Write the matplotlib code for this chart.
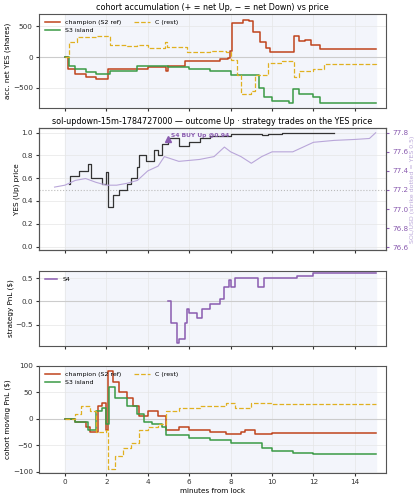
import matplotlib
matplotlib.use("Agg")
import matplotlib.pyplot as plt
import numpy as np

# panel 1: accumulated net YES shares
champ_acc_t = [0,0.1,0.15,0.5,1.0,1.5,2.1,2.5,3.5,4.0,4.5,4.9,5.0,5.8,7.5,7.85,7.95,8.05,8.6,8.9,9.1,9.4,9.7,9.9,10.95,11.05,11.3,11.6,11.9,12.3,15]
champ_acc_v = [0,0,-200,-280,-330,-350,-200,-190,-200,-170,-160,-230,-150,-60,-40,-20,100,550,600,580,400,250,150,80,80,350,260,280,200,130,130]
s3_acc_t = [0,0.1,0.2,0.5,1.0,1.5,2.2,3.5,4.0,5.0,6.0,7.0,8.0,9.2,9.35,9.6,10.0,10.8,11.0,11.3,12.0,12.3,15]
s3_acc_v = [0,0,-150,-200,-250,-280,-220,-150,-140,-170,-200,-230,-300,-300,-500,-650,-720,-750,-520,-600,-650,-750,-750]
c_acc_t = [0,0.1,0.2,0.6,1.5,2.1,2.2,3.0,3.5,4.0,4.85,4.95,5.9,7.0,7.8,8.0,8.3,8.5,9.0,9.2,9.8,10.5,10.95,11.05,11.3,12.0,12.5,15]
c_acc_v = [0,0,250,320,350,350,200,180,200,150,250,160,80,100,80,-50,-300,-600,-550,-300,-100,-70,-70,-330,-230,-200,-120,-130]

# panel 2: YES price and SOL
yes_t = [0.2,0.25,0.7,1.1,1.25,1.8,2.0,2.1,2.3,2.6,3.0,3.2,3.5,3.6,3.9,4.3,4.5,4.7,5.0,5.5,6.0,6.5,7.0,8.0,9.5,9.8,10.5,13.0]
yes_v = [0.55,0.62,0.66,0.72,0.60,0.55,0.65,0.35,0.45,0.50,0.55,0.60,0.70,0.80,0.75,0.85,0.80,0.90,0.95,0.88,0.92,0.95,0.97,0.99,0.98,0.99,1.0,1.0]
sol_t = [-0.5,0,0.5,1.0,1.5,2.0,2.5,3.0,3.5,4.0,4.5,4.8,5.5,6.5,7.2,7.7,8.0,8.5,9.0,9.5,10.0,11.0,11.5,12.0,13.0,14.0,14.7,15.0]
sol_v = [77.23,77.25,77.30,77.32,77.28,77.25,77.25,77.27,77.30,77.40,77.45,77.55,77.50,77.52,77.55,77.65,77.60,77.55,77.48,77.55,77.60,77.60,77.65,77.70,77.72,77.73,77.74,77.80]
buy_t, buy_p = 5.0, 0.94

# panel 3: S4 strategy PnL
s4_t = [5.0,5.1,5.4,5.5,5.8,5.9,6.0,6.4,6.6,7.0,7.5,7.7,7.9,8.0,8.2,9.2,9.3,9.6,11.0,11.2,12.0,15.0]
s4_v = [0.0,-0.45,-0.88,-0.80,-0.45,-0.15,-0.25,-0.35,-0.15,-0.05,0.05,0.30,0.45,0.30,0.50,0.50,0.30,0.50,0.50,0.55,0.60,0.60]

# panel 4: cohort moving PnL
champ_pnl_t = [0,0.2,0.5,1.0,1.2,1.6,1.8,2.0,2.1,2.3,2.6,3.0,3.3,3.6,4.0,4.5,4.9,5.5,6.0,7.0,7.8,8.5,8.7,9.2,10.0,15]
champ_pnl_v = [0,0,-5,-15,-25,25,30,-20,90,70,50,40,25,5,15,5,-20,-15,-20,-25,-28,-25,-20,-28,-27,-27]
s3_pnl_t = [0,0.5,1.1,1.5,1.8,2.0,2.15,2.4,3.0,3.5,3.8,4.2,4.7,4.9,5.5,6.0,7.0,8.0,9.0,9.5,10.0,11.0,12.0,15]
s3_pnl_v = [0,-5,-20,15,20,-10,60,40,25,10,-5,-10,-15,-30,-30,-35,-40,-45,-45,-55,-60,-65,-67,-67]
c_pnl_t = [0,0.5,0.8,1.2,1.5,2.0,2.1,2.4,2.8,3.2,3.6,4.0,4.5,4.9,5.5,6.5,7.8,8.2,9.0,10.0,15]
c_pnl_v = [0,10,25,15,-25,-20,-95,-70,-55,-45,-20,-15,-10,15,20,25,30,20,30,28,28]

RED = "#c0441c"; GRN = "#3a9a45"; YEL = "#e0b020"; PUR = "#8a5cb0"; LPUR = "#b9a6d9"
FS = 5.2
plt.rcParams.update({"font.size": FS, "axes.edgecolor": "#555555", "axes.linewidth": 0.8,
                     "xtick.color": "#333333", "ytick.color": "#333333"})

fig = plt.figure(figsize=(4.19, 5.0), dpi=100)
L, W = 39/419, 347/419
def ax_at(top, bot):
    return fig.add_axes([L, 1-bot/500, W, (bot-top)/500])
ax1 = ax_at(14, 108); ax2 = ax_at(128, 250); ax3 = ax_at(271, 346); ax4 = ax_at(366, 473)
for a in (ax1, ax2, ax3, ax4):
    a.set_xlim(-1.25, 15.5)
    a.axvspan(0, 15, color="#f3f5fb", zorder=0)
    a.grid(True, color="#e6e6e6", lw=0.5)
    a.set_axisbelow(True)
    a.set_xticks([0, 2, 4, 6, 8, 10, 12, 14])
    a.tick_params(length=2.5, labelsize=FS, pad=2)
for a in (ax1, ax2, ax3):
    a.tick_params(labelbottom=False)

ax1.axhline(0, color="#cccccc", lw=0.8)
ax1.step(champ_acc_t, champ_acc_v, where="post", color=RED, lw=1.1, label="champion (S2 ref)")
ax1.step(s3_acc_t, s3_acc_v, where="post", color=GRN, lw=1.1, label="S3 island")
ax1.step(c_acc_t, c_acc_v, where="post", color=YEL, lw=0.9, ls="--", label="C (rest)")
ax1.set_ylim(-830, 700); ax1.set_yticks([-500, 0, 500])
ax1.set_ylabel("acc. net YES (shares)", fontsize=FS, labelpad=1)
ax1.set_title("cohort accumulation (+ = net Up, − = net Down) vs price", fontsize=5.8, pad=3)
ax1.legend(loc="upper left", ncol=2, fontsize=4.5, frameon=False, handlelength=2.5, columnspacing=2)

ax2.axhline(0.5, color="#bbbbbb", lw=0.8, ls=":")
ax2.step(yes_t, yes_v, where="post", color="#333333", lw=0.9)
ax2.plot([buy_t], [buy_p], marker="^", color=PUR, ms=5, ls="none")
ax2.text(buy_t + 0.1, buy_p + 0.02, f"S4 BUY Up @{buy_p:.2f}", color=PUR, fontsize=4.3, fontweight="bold")
ax2.set_ylim(-0.03, 1.04); ax2.set_yticks([0, 0.2, 0.4, 0.6, 0.8, 1.0])
ax2.set_ylabel("YES (Up) price", fontsize=FS, labelpad=1)
ax2.set_title("sol-updown-15m-1784727000 — outcome Up · strategy trades on the YES price", fontsize=5.8, pad=3)
tw = ax2.twinx()
tw.plot(sol_t, sol_v, color=LPUR, lw=0.8)
tw.set_ylim(76.57, 77.85); tw.set_yticks([76.6, 76.8, 77.0, 77.2, 77.4, 77.6, 77.8])
tw.tick_params(colors=PUR, labelsize=FS, length=2.5, pad=2)
tw.set_ylabel("SOL/USD (strike dotted = YES 0.5)", color=LPUR, fontsize=4.5, labelpad=1)

ax3.axhline(0, color="#cccccc", lw=0.8)
ax3.step(s4_t, s4_v, where="post", color=PUR, lw=1.1, label="S4")
ax3.set_ylim(-0.95, 0.65); ax3.set_yticks([-0.5, 0.0, 0.5])
ax3.set_ylabel("strategy PnL ($)", fontsize=FS, labelpad=1)
ax3.legend(loc="upper left", fontsize=4.5, frameon=False)

ax4.axhline(0, color="#cccccc", lw=0.8)
ax4.step(champ_pnl_t, champ_pnl_v, where="post", color=RED, lw=1.1, label="champion (S2 ref)")
ax4.step(s3_pnl_t, s3_pnl_v, where="post", color=GRN, lw=1.1, label="S3 island")
ax4.step(c_pnl_t, c_pnl_v, where="post", color=YEL, lw=0.9, ls="--", label="C (rest)")
ax4.set_ylim(-102, 100); ax4.set_yticks([-100, -50, 0, 50, 100])
ax4.set_ylabel("cohort moving PnL ($)", fontsize=FS, labelpad=1)
ax4.set_xlabel("minutes from lock", fontsize=FS, labelpad=2)
ax4.legend(loc="upper left", ncol=2, fontsize=4.5, frameon=False, handlelength=2.5, columnspacing=2)

fig.savefig("out.png", dpi=100)
